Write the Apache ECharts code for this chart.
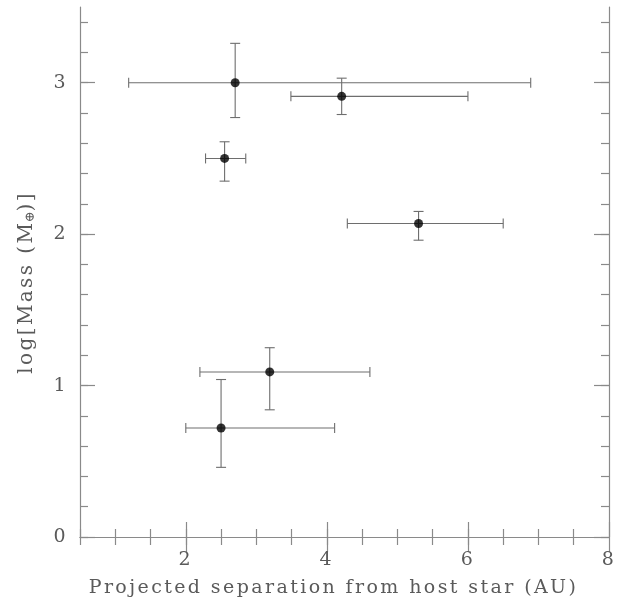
<!DOCTYPE html>
<html>
<head>
<meta charset="utf-8">
<script src="https://cdn.jsdelivr.net/npm/echarts@6/dist/echarts.min.js"></script>
<style>
  html, body { margin: 0; padding: 0; background: #fff; }
  #chart { width: 620px; height: 608px; }
</style>
</head>
<body>
<div id="chart"></div>
<script>
const sepAU   = [2.70, 4.21, 2.55, 5.30, 3.19, 2.50];
const logMass = [3.00, 2.91, 2.50, 2.07, 1.09, 0.72];
const sepLo   = [1.19, 3.49, 2.28, 4.29, 2.20, 2.00];
const sepHi   = [6.89, 6.00, 2.85, 6.50, 4.61, 4.11];
const massLo  = [2.77, 2.79, 2.35, 1.96, 0.84, 0.46];
const massHi  = [3.26, 3.03, 2.61, 2.15, 1.25, 1.04];

// axis ticks
const xLabels = [2, 4, 6, 8];
const yLabels = [0, 1, 2, 3];
const xMinor = [];
for (let v = 0.5; v < 8; v += 0.5) xMinor.push(v);
const yMinor = [];
for (let v = 0; v < 3.5; v += 0.2) yMinor.push(+v.toFixed(1));

const gray = '#8a8a8a';
const textGray = '#5a5a5a';
const font = 'DejaVu Serif';
const spacing = 2.4; // letter spacing of the lettering, px

function mkX(pos, ticks, len, showLine, labels) {
  return {
    type: 'value', position: pos, min: 0.5, max: 8,
    axisLine: { show: showLine, lineStyle: { color: gray, width: 1.2 } },
    axisTick: { show: true, inside: true, length: len, customValues: ticks,
                lineStyle: { color: gray, width: 1.2 } },
    axisLabel: labels ? { show: true, customValues: labels, color: textGray,
                          fontFamily: font, fontSize: 19, margin: 14 } : { show: false },
    splitLine: { show: false }
  };
}
function mkY(pos, ticks, len, showLine, labels) {
  return {
    type: 'value', position: pos, min: 0, max: 3.5,
    axisLine: { show: showLine, lineStyle: { color: gray, width: 1.2 } },
    axisTick: { show: true, inside: true, length: len, customValues: ticks,
                lineStyle: { color: gray, width: 1.2 } },
    axisLabel: labels ? { show: true, customValues: labels, color: textGray,
                          fontFamily: font, fontSize: 19, margin: 12 } : { show: false },
    splitLine: { show: false }
  };
}

const xAxes = [
  mkX('bottom', xLabels, 15, true, xLabels),
  mkX('bottom', xMinor, 8, false, null),
  mkX('top', xLabels, 15, true, null),
  mkX('top', xMinor, 8, false, null)
];
xAxes[0].name = 'Projected separation from host star (AU)';
xAxes[0].nameLocation = 'middle';
xAxes[0].nameGap = 42;
xAxes[0].nameTextStyle = { color: textGray, fontFamily: font, fontSize: 19, padding: [0, 22, 0, 0] };

const yAxes = [
  mkY('left', yLabels, 15, true, yLabels),
  mkY('left', yMinor, 8, false, null),
  mkY('right', yLabels, 15, true, null),
  mkY('right', yMinor, 8, false, null)
];
yAxes[0].name = '{a|log[Mass (M}{sub|⊕}{b|)]}';
yAxes[0].nameLocation = 'middle';
yAxes[0].nameGap = 43;
yAxes[0].nameTextStyle = {
  color: textGray, fontFamily: font, fontSize: 20, padding: [0, 10, 0, 0],
  rich: {
    a: { fontSize: 20, color: textGray, fontFamily: font },
    // rich tokens are placed from unspaced widths, so make room for the spacing
    sub: { fontSize: 13, color: textGray, fontFamily: font, verticalAlign: 'bottom',
           padding: [8, 0, 0, 13] },
    b: { fontSize: 20, color: textGray, fontFamily: font, padding: [0, 0, 0, 1] }
  }
};

const errData = sepAU.map((x, i) => [x, logMass[i], sepLo[i], sepHi[i], massLo[i], massHi[i]]);
const ptData = sepAU.map((x, i) => [x, logMass[i]]);

const chart = echarts.init(document.getElementById('chart'));
chart.setOption({
  animation: false,
  backgroundColor: '#fff',
  grid: { left: 80, right: 11, top: 7, bottom: 71, containLabel: false },
  xAxis: xAxes,
  yAxis: yAxes,
  series: [
    {
      type: 'custom',
      xAxisIndex: 0, yAxisIndex: 0,
      encode: { x: [0, 2, 3], y: [1, 4, 5] },
      data: errData,
      renderItem: function (params, api) {
        const c = api.coord([api.value(0), api.value(1)]);
        const l = api.coord([api.value(2), api.value(1)]);
        const r = api.coord([api.value(3), api.value(1)]);
        const b = api.coord([api.value(0), api.value(4)]);
        const t = api.coord([api.value(0), api.value(5)]);
        const cap = 5;
        const style = { stroke: '#6e6e6e', lineWidth: 1.1, fill: null };
        const seg = (x1, y1, x2, y2) => ({ type: 'line', shape: { x1, y1, x2, y2 }, style });
        return {
          type: 'group',
          children: [
            seg(l[0], c[1], r[0], c[1]),
            seg(l[0], c[1] - cap, l[0], c[1] + cap),
            seg(r[0], c[1] - cap, r[0], c[1] + cap),
            seg(c[0], b[1], c[0], t[1]),
            seg(c[0] - cap, b[1], c[0] + cap, b[1]),
            seg(c[0] - cap, t[1], c[0] + cap, t[1])
          ]
        };
      },
      z: 2
    },
    {
      type: 'scatter',
      xAxisIndex: 0, yAxisIndex: 0,
      data: ptData,
      symbol: 'circle',
      symbolSize: 9,
      itemStyle: { color: '#000' },
      z: 3
    }
  ]
});

// the original lettering is widely spaced; widen it on the canvas
const painter = chart.getZr().painter;
if (painter && painter.getLayers) {
  const layers = painter.getLayers();
  Object.keys(layers).forEach(k => {
    const ctx = layers[k].ctx;
    if (ctx && 'letterSpacing' in ctx) ctx.letterSpacing = spacing + 'px';
  });
  painter.refresh(true);
}
</script>
</body>
</html>
